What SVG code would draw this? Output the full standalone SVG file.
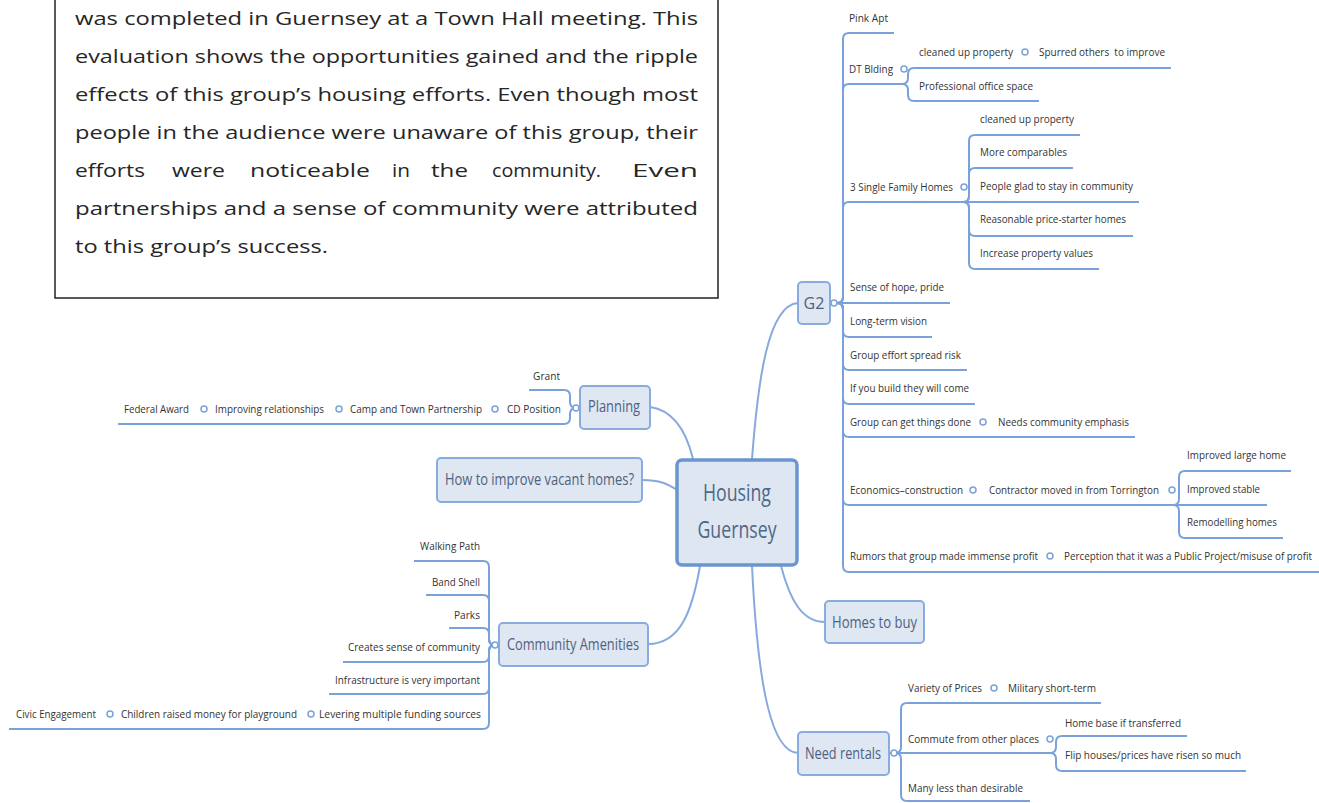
<svg xmlns="http://www.w3.org/2000/svg" width="1319" height="803" viewBox="0 0 1319 803">
<style>
.p{font-family:"Open Sans","Liberation Sans",sans-serif;font-size:18.5px;fill:#262626}
.t{font-family:"Open Sans","Liberation Sans",sans-serif;font-size:11.5px;fill:#333}
.m{font-family:"Open Sans","Liberation Sans",sans-serif;font-size:16px;fill:#4f6180}
.c{font-family:"Open Sans","Liberation Sans",sans-serif;font-size:24px;fill:#4f6787;text-anchor:middle}
.ln{fill:none;stroke:#7aa2da;stroke-width:2}
.cn{fill:none;stroke:#86aadf;stroke-width:2}
.box{fill:#dfe7f2;stroke:#88acdf;stroke-width:2}
.dot{fill:#fff;stroke:#7aa2da;stroke-width:1.5}
</style>
<rect width="1319" height="803" fill="#fff"/>
<g id="intro">
<rect x="55" y="-6" width="663" height="304" fill="#fff" stroke="#222" stroke-width="1.5"/>
<text class="p" x="75" y="25" textLength="623" lengthAdjust="spacingAndGlyphs">was completed in Guernsey at a Town Hall meeting. This</text>
<text class="p" x="75" y="63" textLength="623" lengthAdjust="spacingAndGlyphs">evaluation shows the opportunities gained and the ripple</text>
<text class="p" x="75" y="101" textLength="623" lengthAdjust="spacingAndGlyphs">effects of this group’s housing efforts. Even though most</text>
<text class="p" x="75" y="139" textLength="623" lengthAdjust="spacingAndGlyphs">people in the audience were unaware of this group, their</text>
<text class="p" y="177"><tspan x="75" textLength="70" lengthAdjust="spacingAndGlyphs">efforts</tspan> <tspan x="172" textLength="53" lengthAdjust="spacingAndGlyphs">were</tspan> <tspan x="250" textLength="120" lengthAdjust="spacingAndGlyphs">noticeable</tspan> <tspan x="392" textLength="18" lengthAdjust="spacingAndGlyphs">in</tspan> <tspan x="431" textLength="37" lengthAdjust="spacingAndGlyphs">the</tspan> <tspan x="492" textLength="109" lengthAdjust="spacingAndGlyphs">community.</tspan> <tspan x="632" textLength="66" lengthAdjust="spacingAndGlyphs">Even</tspan></text>
<text class="p" x="75" y="215" textLength="623" lengthAdjust="spacingAndGlyphs">partnerships and a sense of community were attributed</text>
<text class="p" x="75" y="253" textLength="253" lengthAdjust="spacingAndGlyphs">to this group’s success.</text>
</g>
<g id="connectors">
<path class="cn" d="M650,407 C672,410 686,430 693,459"/>
<path class="cn" d="M642,480 C660,480 668,484 677,490"/>
<path class="cn" d="M752,459 C758,380 768,305 798,303"/>
<path class="cn" d="M700,566 C692,612 680,644 648,644"/>
<path class="cn" d="M781,566 C790,600 802,622 825,622"/>
<path class="cn" d="M752,566 C758,690 772,752 798,753"/>
<path class="ln" d="M830,303 H837 Q843,303 843,297 V39 Q843,33 849,33 H894"/>
<path class="ln" d="M830,303 H837 Q843,303 843,297 V90 Q843,84 849,84 H900"/>
<path class="ln" d="M830,303 H837 Q843,303 843,297 V208 Q843,202 849,202 H960"/>
<path class="ln" d="M830,303 H950"/>
<path class="ln" d="M830,303 H837 Q843,303 843,309 V331 Q843,337 849,337 H932"/>
<path class="ln" d="M830,303 H837 Q843,303 843,309 V364 Q843,370 849,370 H967"/>
<path class="ln" d="M830,303 H837 Q843,303 843,309 V398 Q843,404 849,404 H975"/>
<path class="ln" d="M830,303 H837 Q843,303 843,309 V431 Q843,437 849,437 H1135"/>
<path class="ln" d="M830,303 H837 Q843,303 843,309 V499 Q843,505 849,505 H1175"/>
<path class="ln" d="M830,303 H837 Q843,303 843,309 V566 Q843,572 849,572 H1319"/>
<path class="ln" d="M900,84 H902 Q908,84 908,78 V74 Q908,68 914,68 H1171"/>
<path class="ln" d="M900,84 H902 Q908,84 908,90 V95 Q908,101 914,101 H1039"/>
<path class="ln" d="M960,202 H963 Q969,202 969,196 V141 Q969,135 975,135 H1080"/>
<path class="ln" d="M960,202 H963 Q969,202 969,196 V174 Q969,168 975,168 H1073"/>
<path class="ln" d="M960,202 H1139"/>
<path class="ln" d="M960,202 H963 Q969,202 969,208 V230 Q969,236 975,236 H1133"/>
<path class="ln" d="M960,202 H963 Q969,202 969,208 V263 Q969,269 975,269 H1099"/>
<path class="ln" d="M1172,505 H1173 Q1179,505 1179,499 V477 Q1179,471 1185,471 H1291"/>
<path class="ln" d="M1172,505 H1267"/>
<path class="ln" d="M1172,505 H1173 Q1179,505 1179,511 V532 Q1179,538 1185,538 H1283"/>
<path class="ln" d="M889,753 H895 Q901,753 901,747 V709 Q901,703 907,703 H1101"/>
<path class="ln" d="M889,753 H1050"/>
<path class="ln" d="M889,753 H895 Q901,753 901,759 V795 Q901,801 907,801 H1030"/>
<path class="ln" d="M1050,753 Q1056,753 1056,747 V742 Q1056,736 1062,736 H1187"/>
<path class="ln" d="M1050,753 Q1056,753 1056,759 V765 Q1056,771 1062,771 H1246"/>
<path class="ln" d="M580,408 H576 Q570,408 570,402 V396 Q570,390 564,390 H529"/>
<path class="ln" d="M580,408 H576 Q570,408 570,414 V418 Q570,424 564,424 H118"/>
<path class="ln" d="M499,645 H495 Q489,645 489,639 V567 Q489,561 483,561 H414"/>
<path class="ln" d="M499,645 H495 Q489,645 489,639 V601 Q489,595 483,595 H426"/>
<path class="ln" d="M499,645 H495 Q489,645 489,639 V634 Q489,628 483,628 H449"/>
<path class="ln" d="M499,645 H495 Q489,645 489,651 V656 Q489,662 483,662 H343"/>
<path class="ln" d="M499,645 H495 Q489,645 489,651 V688 Q489,694 483,694 H329"/>
<path class="ln" d="M499,645 H495 Q489,645 489,651 V723 Q489,729 483,729 H9"/>
</g>
<g id="central">
<rect x="677" y="460" width="120" height="105" rx="5" fill="#dde6f1" stroke="#6b95d0" stroke-width="3.5"/>
<text class="c" x="737" y="501" textLength="68" lengthAdjust="spacingAndGlyphs">Housing</text>
<text class="c" x="737" y="538" textLength="79" lengthAdjust="spacingAndGlyphs">Guernsey</text>
</g>
<g id="planning">
<rect class="box" x="580" y="386" width="70" height="43" rx="4"/>
<text class="m" x="588" y="412" textLength="52" lengthAdjust="spacingAndGlyphs">Planning</text>
<circle class="dot" cx="576" cy="408" r="3"/>
</g>
<g id="planning-children">
<text class="t" x="533" y="380" textLength="27" lengthAdjust="spacingAndGlyphs">Grant</text>
<text class="t" x="507" y="413" textLength="54" lengthAdjust="spacingAndGlyphs">CD Position</text>
<circle class="dot" cx="495" cy="409" r="3"/>
<text class="t" x="350" y="413" textLength="132" lengthAdjust="spacingAndGlyphs">Camp and Town Partnership</text>
<circle class="dot" cx="339" cy="409" r="3"/>
<text class="t" x="215" y="413" textLength="109" lengthAdjust="spacingAndGlyphs">Improving relationships</text>
<circle class="dot" cx="204" cy="409" r="3"/>
<text class="t" x="124" y="413" textLength="65" lengthAdjust="spacingAndGlyphs">Federal Award</text>
</g>
<g id="vacant">
<rect class="box" x="437" y="458" width="205" height="44" rx="4"/>
<text class="m" x="445" y="485" textLength="189" lengthAdjust="spacingAndGlyphs">How to improve vacant homes?</text>
</g>
<g id="amenities">
<rect class="box" x="499" y="623" width="149" height="43" rx="4"/>
<text class="m" x="507" y="650" textLength="132" lengthAdjust="spacingAndGlyphs">Community Amenities</text>
<circle class="dot" cx="495" cy="645" r="3"/>
</g>
<g id="amenities-children">
<text class="t" x="420" y="550" textLength="60" lengthAdjust="spacingAndGlyphs">Walking Path</text>
<text class="t" x="432" y="586" textLength="48" lengthAdjust="spacingAndGlyphs">Band Shell</text>
<text class="t" x="454" y="619" textLength="26" lengthAdjust="spacingAndGlyphs">Parks</text>
<text class="t" x="348" y="651" textLength="132" lengthAdjust="spacingAndGlyphs">Creates sense of community</text>
<text class="t" x="335" y="684" textLength="145" lengthAdjust="spacingAndGlyphs">Infrastructure is very important</text>
<text class="t" x="319" y="718" textLength="162" lengthAdjust="spacingAndGlyphs">Levering multiple funding sources</text>
<circle class="dot" cx="311" cy="714" r="3"/>
<text class="t" x="121" y="718" textLength="176" lengthAdjust="spacingAndGlyphs">Children raised money for playground</text>
<circle class="dot" cx="110" cy="714" r="3"/>
<text class="t" x="16" y="718" textLength="80" lengthAdjust="spacingAndGlyphs">Civic Engagement</text>
</g>
<g id="g2">
<rect class="box" x="798" y="282" width="32" height="42" rx="4"/>
<text class="m" x="814" y="309" text-anchor="middle">G2</text>
<circle class="dot" cx="834" cy="303" r="3"/>
</g>
<g id="g2-children">
<text class="t" x="849" y="22" textLength="39" lengthAdjust="spacingAndGlyphs">Pink Apt</text>
<text class="t" x="849" y="73" textLength="44" lengthAdjust="spacingAndGlyphs">DT Blding</text>
<circle class="dot" cx="904" cy="69" r="3"/>
<text class="t" x="919" y="56" textLength="94" lengthAdjust="spacingAndGlyphs">cleaned up property</text>
<circle class="dot" cx="1025" cy="52" r="3"/>
<text class="t" x="1039" y="56" textLength="126" lengthAdjust="spacingAndGlyphs" xml:space="preserve">Spurred others  to improve</text>
<text class="t" x="919" y="90" textLength="114" lengthAdjust="spacingAndGlyphs">Professional office space</text>
<text class="t" x="850" y="191" textLength="103" lengthAdjust="spacingAndGlyphs">3 Single Family Homes</text>
<circle class="dot" cx="964" cy="187" r="3"/>
<text class="t" x="980" y="123" textLength="94" lengthAdjust="spacingAndGlyphs">cleaned up property</text>
<text class="t" x="980" y="156" textLength="87" lengthAdjust="spacingAndGlyphs">More comparables</text>
<text class="t" x="980" y="190" textLength="153" lengthAdjust="spacingAndGlyphs">People glad to stay in community</text>
<text class="t" x="980" y="223" textLength="146" lengthAdjust="spacingAndGlyphs">Reasonable price-starter homes</text>
<text class="t" x="980" y="257" textLength="113" lengthAdjust="spacingAndGlyphs">Increase property values</text>
<text class="t" x="850" y="291" textLength="94" lengthAdjust="spacingAndGlyphs">Sense of hope, pride</text>
<text class="t" x="850" y="325" textLength="77" lengthAdjust="spacingAndGlyphs">Long-term vision</text>
<text class="t" x="850" y="359" textLength="111" lengthAdjust="spacingAndGlyphs">Group effort spread risk</text>
<text class="t" x="850" y="392" textLength="119" lengthAdjust="spacingAndGlyphs">If you build they will come</text>
<text class="t" x="850" y="426" textLength="121" lengthAdjust="spacingAndGlyphs">Group can get things done</text>
<circle class="dot" cx="983" cy="422" r="3"/>
<text class="t" x="998" y="426" textLength="131" lengthAdjust="spacingAndGlyphs">Needs community emphasis</text>
<text class="t" x="850" y="494" textLength="113" lengthAdjust="spacingAndGlyphs">Economics–construction</text>
<circle class="dot" cx="973" cy="490" r="3"/>
<text class="t" x="989" y="494" textLength="170" lengthAdjust="spacingAndGlyphs">Contractor moved in from Torrington</text>
<circle class="dot" cx="1172" cy="490" r="3"/>
<text class="t" x="1187" y="459" textLength="99" lengthAdjust="spacingAndGlyphs">Improved large home</text>
<text class="t" x="1187" y="493" textLength="73" lengthAdjust="spacingAndGlyphs">Improved stable</text>
<text class="t" x="1187" y="526" textLength="90" lengthAdjust="spacingAndGlyphs">Remodelling homes</text>
<text class="t" x="850" y="560" textLength="188" lengthAdjust="spacingAndGlyphs">Rumors that group made immense profit</text>
<circle class="dot" cx="1050" cy="556" r="3"/>
<text class="t" transform="translate(1064,560) scale(0.8,1)" x="0" y="0" textLength="310" lengthAdjust="spacingAndGlyphs">Perception that it was a Public Project/misuse of profit</text>
</g>
<g id="homes-to-buy">
<rect class="box" x="825" y="601" width="99" height="42" rx="4"/>
<text class="m" x="832" y="628" textLength="85" lengthAdjust="spacingAndGlyphs">Homes to buy</text>
</g>
<g id="need-rentals">
<rect class="box" x="798" y="732" width="91" height="43" rx="4"/>
<text class="m" x="805" y="759" textLength="76" lengthAdjust="spacingAndGlyphs">Need rentals</text>
<circle class="dot" cx="894" cy="753" r="3"/>
</g>
<g id="rentals-children">
<text class="t" x="908" y="692" textLength="74" lengthAdjust="spacingAndGlyphs">Variety of Prices</text>
<circle class="dot" cx="994" cy="688" r="3"/>
<text class="t" x="1008" y="692" textLength="88" lengthAdjust="spacingAndGlyphs">Military short-term</text>
<text class="t" x="908" y="743" textLength="131" lengthAdjust="spacingAndGlyphs">Commute from other places</text>
<circle class="dot" cx="1050" cy="739" r="3"/>
<text class="t" x="1065" y="727" textLength="116" lengthAdjust="spacingAndGlyphs">Home base if transferred</text>
<text class="t" x="1065" y="759" textLength="176" lengthAdjust="spacingAndGlyphs">Flip houses/prices have risen so much</text>
<text class="t" x="908" y="792" textLength="115" lengthAdjust="spacingAndGlyphs">Many less than desirable</text>
</g>
</svg>
